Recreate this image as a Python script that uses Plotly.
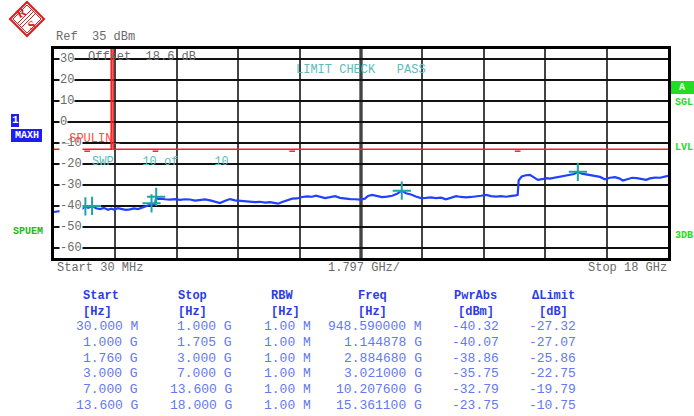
import plotly.graph_objects as go

# ---------------- sweep / display settings ----------------
start_ghz = 0.03
stop_ghz = 18.0
n_div = 10
ref_level_dbm = 35
bottom_dbm = -65
level_ticks = [30, 20, 10, 0, -10, -20, -30, -40, -50, -60]

# ---------------- max-hold trace (GHz, dBm) ----------------
trace_ghz = [
    0.03, 0.15, 0.29, 0.44, 0.59, 0.73, 0.85, 0.94859, 1.03, 1.144878,
    1.26, 1.38, 1.49, 1.61, 1.70, 1.79, 1.90, 2.02, 2.14, 2.25,
    2.37, 2.49, 2.61, 2.72, 2.80, 2.88468, 2.95, 2.99, 3.021, 3.08,
    3.13, 3.28, 3.42, 3.57, 3.72, 3.86, 4.01, 4.16, 4.30, 4.45,
    4.60, 4.74, 4.89, 5.04, 5.18, 5.33, 5.48, 5.62, 5.77, 5.91,
    6.06, 6.21, 6.35, 6.50, 6.59, 6.71, 6.85, 7.00, 7.14, 7.29,
    7.44, 7.58, 7.70, 7.82, 7.96, 8.11, 8.26, 8.40, 8.55, 8.70,
    8.84, 8.99, 9.13, 9.22, 9.34, 9.49, 9.63, 9.78, 9.93, 10.07,
    10.2076, 10.33, 10.48, 10.62, 10.77, 10.92, 11.06, 11.21, 11.36, 11.50,
    11.65, 11.80, 11.94, 12.09, 12.24, 12.38, 12.53, 12.68, 12.82, 12.97,
    13.11, 13.26, 13.41, 13.55, 13.60, 13.63, 13.72, 13.84, 13.96, 14.08,
    14.19, 14.31, 14.43, 14.54, 14.69, 14.84, 14.98, 15.13, 15.25, 15.3611,
    15.48, 15.60, 15.71, 15.86, 16.01, 16.15, 16.30, 16.45, 16.57, 16.68,
    16.80, 16.95, 17.09, 17.24, 17.36, 17.47, 17.62, 17.77, 17.88, 18.00,
]
trace_dbm = [
    -43.0, -42.8, -42.3, -42.6, -42.0, -42.2, -41.5, -40.32, -41.0, -40.07,
    -41.2, -41.6, -41.0, -41.9, -41.4, -41.8, -41.2, -41.6, -42.0, -41.7,
    -41.3, -41.6, -41.0, -40.4, -39.8, -38.86, -39.3, -39.0, -35.75, -36.8,
    -36.6, -36.9, -37.1, -36.8, -37.2, -36.9, -37.0, -37.5, -37.3, -37.0,
    -37.4, -37.9, -38.7, -37.6, -36.8, -37.4, -37.6, -37.8, -38.0, -38.3,
    -38.1, -38.5, -38.3, -38.7, -39.0, -38.2, -37.4, -36.6, -36.5, -35.8,
    -35.5, -35.7, -35.2, -35.8, -36.3, -35.9, -35.4, -36.2, -36.6, -36.8,
    -36.9, -37.1, -36.6, -35.3, -34.8, -35.5, -35.9, -35.6, -35.2, -34.3,
    -32.79, -34.0, -34.6, -35.6, -36.3, -36.2, -36.0, -36.3, -36.1, -36.9,
    -36.1, -35.4, -35.8, -36.0, -35.8, -35.6, -35.2, -34.8, -35.4, -35.6,
    -35.4, -35.7, -35.5, -35.0, -34.8, -27.8, -26.0, -25.4, -25.2, -26.6,
    -27.6, -27.3, -26.8, -27.0, -26.5, -26.0, -25.8, -25.2, -24.8, -23.75,
    -24.7, -25.0, -25.3, -25.6, -26.2, -27.3, -26.6, -26.3, -26.9, -27.9,
    -27.2, -26.6, -26.8, -27.2, -27.6, -26.9, -26.5, -26.6, -26.2, -25.7,
]

# ---------------- spurious limit line ----------------
limit_dbm = -13
limit_gap_ghz = [1.705, 1.760]

# ---------------- sweep ranges / peak list ----------------
range_start_hz = [30e6, 1.0e9, 1.76e9, 3.0e9, 7.0e9, 13.6e9]
range_stop_hz = [1.0e9, 1.705e9, 3.0e9, 7.0e9, 13.6e9, 18.0e9]
rbw_hz = [1e6, 1e6, 1e6, 1e6, 1e6, 1e6]
peak_freq_hz = [948.59e6, 1.144878e9, 2.88468e9, 3.021e9, 10.2076e9, 15.3611e9]
peak_dbm = [-40.32, -40.07, -38.86, -35.75, -32.79, -23.75]

# ---------------- geometry helpers (pixel -> paper) ----------------
W, H = 694, 416
PL, PR, PT, PB = 54, 668, 49, 258


def px(x):
    return (x - PL) / (PR - PL)


def py(y):
    return (PB - y) / (PB - PT)


MONO = "Liberation Mono, Courier New, monospace"
GRAY = "#6a6a6a"
TEAL = "#5cbcbc"
GREEN = "#22dd22"
HDR_BLUE = "#2a3ce6"
VAL_BLUE = "#6478f2"
LOGO_RED = "#d42020"

fig = go.Figure()

# limit line with the excluded band opened up to the top of the screen
lim_x = [start_ghz, limit_gap_ghz[0], limit_gap_ghz[0], limit_gap_ghz[1], limit_gap_ghz[1], stop_ghz]
lim_y = [limit_dbm, limit_dbm, ref_level_dbm + 10, ref_level_dbm + 10, limit_dbm, limit_dbm]
fig.add_trace(go.Scatter(x=lim_x, y=lim_y, mode="lines",
                         line=dict(color="#ff1e1e", width=1.6), hoverinfo="skip"))

# small range-boundary ticks under the limit line
bounds_ghz = [f / 1e9 for f in range_start_hz[1:] if f / 1e9 not in limit_gap_ghz]
fig.add_trace(go.Scatter(x=bounds_ghz, y=[limit_dbm - 0.9] * len(bounds_ghz), mode="markers",
                         marker=dict(symbol="line-ew", size=4, line=dict(color="#ff1e1e", width=1.5)),
                         hoverinfo="skip"))

# max-hold trace
fig.add_trace(go.Scatter(x=trace_ghz, y=trace_dbm, mode="lines",
                         line=dict(color="#2240ff", width=2.2), hoverinfo="skip"))

# peak markers
fig.add_trace(go.Scatter(x=[f / 1e9 for f in peak_freq_hz], y=peak_dbm, mode="markers",
                         marker=dict(symbol="cross-thin", size=13,
                                     line=dict(color="#1ca4a4", width=2)),
                         hoverinfo="skip"))

div = (stop_ghz - start_ghz) / n_div
fig.update_xaxes(range=[start_ghz, stop_ghz],
                 tickvals=[start_ghz + k * div for k in range(1, n_div)],
                 showticklabels=False, ticks="",
                 showgrid=True, gridcolor="#444444", gridwidth=2,
                 showline=True, linecolor="black", linewidth=3, mirror=True,
                 zeroline=False)
fig.update_yaxes(range=[bottom_dbm, ref_level_dbm], tickvals=level_ticks,
                 showticklabels=False, ticks="",
                 showgrid=True, gridcolor="#111111", gridwidth=1.6,
                 showline=True, linecolor="black", linewidth=3, mirror=True,
                 zeroline=False)

shapes = []
# heavier centre division
shapes.append(dict(type="line", xref="x", yref="paper",
                   x0=start_ghz + 5 * div, x1=start_ghz + 5 * div, y0=0, y1=1,
                   line=dict(color="black", width=3), layer="below"))

ann = []


def text(x, y, s, color=GRAY, size=12, anchor="left", bold=False, bg=None):
    d = dict(x=px(x), y=py(y), xref="paper", yref="paper", text=("<b>%s</b>" % s) if bold else s,
             showarrow=False, xanchor=anchor, yanchor="middle",
             font=dict(family=MONO, size=size, color=color), borderpad=0)
    if bg:
        d["bgcolor"] = bg
    ann.append(d)


# level labels inside the grid
for v in level_ticks:
    ann.append(dict(x=start_ghz + 0.16, y=v, xref="x", yref="y", text=str(v),
                    showarrow=False, xanchor="left", yanchor="middle", bgcolor="white",
                    borderpad=0, font=dict(family=MONO, size=12, color=GRAY)))

# header / status texts
text(55, 37, "Ref  35 dBm")
text(87, 57, "Offset  18.6 dB")
text(295, 70, "LIMIT CHECK   PASS", color=TEAL)
text(91, 162, "SWP    10 of     10", color=TEAL)
text(60, 139, "_SPULIN_", color="#ff4a4a")

# frequency axis annotations
text(56, 268, "Start 30 MHz")
text(327, 268, "1.797 GHz/")
text(668, 268, "Stop 18 GHz", anchor="right")

# left side-panel tags
shapes.append(dict(type="rect", xref="paper", yref="paper", x0=px(11), x1=px(19), y0=py(127), y1=py(114),
                   fillcolor="#1d1df0", line=dict(width=0)))
shapes.append(dict(type="rect", xref="paper", yref="paper", x0=px(11), x1=px(42), y0=py(142), y1=py(129),
                   fillcolor="#1d1df0", line=dict(width=0)))
text(15, 120.5, "1", color="white", size=11, anchor="center", bold=True)
text(26.5, 135.5, "MAXH", color="white", size=10, anchor="center", bold=True)
text(12, 231, "SPUEM", color="#22b822", size=10, bold=True)

# right side-panel tags
shapes.append(dict(type="rect", xref="paper", yref="paper", x0=px(671), x1=px(694), y0=py(94), y1=py(81),
                   fillcolor=GREEN, line=dict(width=0)))
text(682.5, 87.5, "A", color="white", size=10, anchor="center", bold=True)
text(674, 102, "SGL", color=GREEN, size=10, bold=True)
text(674, 147, "LVL", color=GREEN, size=10, bold=True)
text(674, 235, "3DB", color=GREEN, size=10, bold=True)

# maker logo: diamond with R / S and a hatched band
logo_c = (27, 19)
for r, w in [(17, 2), (14, 1)]:
    pts = [(logo_c[0] - r, logo_c[1]), (logo_c[0], logo_c[1] - r),
           (logo_c[0] + r, logo_c[1]), (logo_c[0], logo_c[1] + r)]
    path = "M " + " L ".join("%.4f,%.4f" % (px(a), py(b)) for a, b in pts) + " Z"
    shapes.append(dict(type="path", xref="paper", yref="paper", path=path,
                       line=dict(color=LOGO_RED, width=w), fillcolor="rgba(0,0,0,0)"))
for (x0, y0, x1, y1) in [(17, 24, 31, 10), (19, 26, 33, 12), (21, 28, 35, 14)]:
    shapes.append(dict(type="line", xref="paper", yref="paper", x0=px(x0), y0=py(y0), x1=px(x1), y1=py(y1),
                       line=dict(color=LOGO_RED, width=1)))
for ch, (lx, ly) in [("R", (21, 13)), ("S", (31.5, 24.5))]:
    ann.append(dict(x=px(lx), y=py(ly), xref="paper", yref="paper", text="<b>%s</b>" % ch,
                    showarrow=False, xanchor="center", yanchor="middle", textangle=-30,
                    font=dict(family="Liberation Serif, serif", size=12, color=LOGO_RED)))


# ---------------- range table ----------------
def fmt_hz(f, nd):
    if f < 1e9:
        return "%.*f M" % (nd, f / 1e6)
    return "%.*f G" % (nd, f / 1e9)


delta_db = [p - limit_dbm for p in peak_dbm]
columns = [
    ("Start", 101, 139, [fmt_hz(f, 3) for f in range_start_hz]),
    ("Stop", 192, 233, [fmt_hz(f, 3) for f in range_stop_hz]),
    ("RBW", 282, 312, [fmt_hz(f, 2) for f in rbw_hz]),
    ("Freq", 372, 423, [fmt_hz(f, 6) for f in peak_freq_hz]),
    ("PwrAbs", 475, 500, ["%.2f" % v for v in peak_dbm]),
    ("\u0394Limit", 553, 577, ["%.2f" % v for v in delta_db]),
]
units = ["[Hz]", "[Hz]", "[Hz]", "[Hz]", "[dBm]", "[dB]"]
unit_x = [97, 192, 285, 372, 476, 553]
row_y = [326, 342, 358, 373, 389, 405]

for (hdr, hx, vx, vals), u, ux in zip(columns, units, unit_x):
    text(hx, 296, hdr, color=HDR_BLUE, size=12, anchor="center", bold=True)
    text(ux, 312.5, u, color=HDR_BLUE, size=12, anchor="center", bold=True)
    for yv, s in zip(row_y, vals):
        text(vx, yv, s, color=VAL_BLUE, size=13, anchor="right")

fig.update_layout(
    width=W, height=H,
    margin=dict(l=PL, r=W - PR, t=PT, b=H - PB),
    paper_bgcolor="white", plot_bgcolor="white",
    showlegend=False,
    shapes=shapes, annotations=ann,
)

fig.write_html("out.html")
